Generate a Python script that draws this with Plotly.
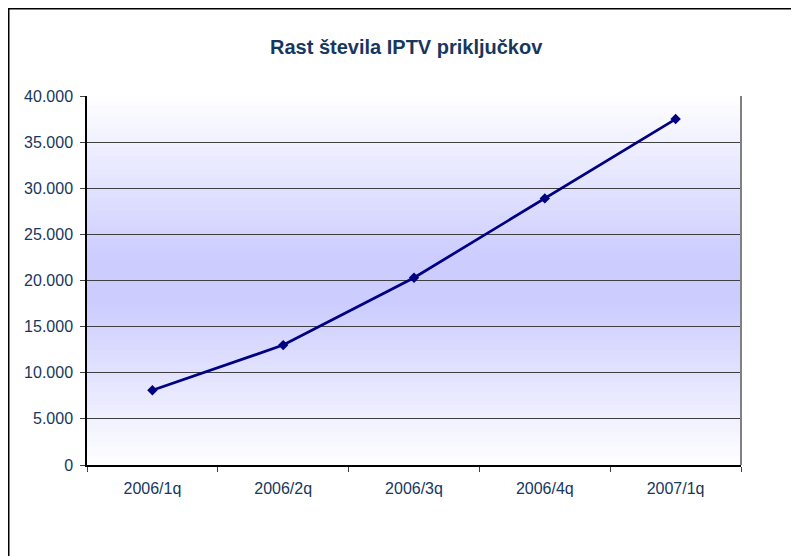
import plotly.graph_objects as go

categories = ["2006/1q", "2006/2q", "2006/3q", "2006/4q", "2007/1q"]
values = [8100, 13000, 20300, 28900, 37500]
y_ticks = [0, 5000, 10000, 15000, 20000, 25000, 30000, 35000, 40000]
title_text = "Rast števila IPTV priključkov"

# page has 8px body margin; figure origin sits at page (8, 8)
OFF = 8
W, H = 791, 560
L, T = 87 - OFF, 96 - OFF
pw, ph = 654, 369
R = W - L - pw
B = H - T - ph

def px_x(x):  # figure pixel -> paper
    return (x - L) / pw

def px_y(y):
    return (T + ph - y) / ph

fig = go.Figure()
fig.add_trace(go.Scatter(
    x=categories, y=values, mode="lines+markers",
    line=dict(color="#000080", width=2.75),
    marker=dict(symbol="diamond", size=8, color="#000080"),
    showlegend=False, cliponaxis=False,
))

shapes = []
n = 80
for i in range(n):
    y0 = i / n
    y1 = (i + 1) / n
    c = (y0 + y1) / 2
    d = abs(c - 0.5) / 0.5
    t = min(1.0, max(0.0, (d - 0.12) / 0.88))
    r0, g0 = 0xCC, 0xCC
    r = round(r0 + (255 - r0) * t)
    g = round(g0 + (255 - g0) * t)
    shapes.append(dict(type="rect", xref="x domain", yref="y domain",
                       x0=0, x1=1, y0=y0, y1=y1 + 0.002, layer="below",
                       line=dict(width=0), fillcolor=f"rgb({r},{g},255)"))
shapes.append(dict(type="line", xref="x domain", yref="y domain",
                   x0=1, x1=1, y0=0, y1=1, line=dict(color="#808080", width=2), layer="above"))
shapes.append(dict(type="rect", xref="paper", yref="paper",
                   x0=px_x(0.75), x1=px_x(W + 5), y0=px_y(H + 5), y1=px_y(0.75),
                   line=dict(color="#000000", width=1.5), fillcolor="rgba(0,0,0,0)"))

fig.update_layout(
    width=W, height=H,
    margin=dict(l=L, r=R, t=T, b=B),
    paper_bgcolor="white",
    plot_bgcolor="rgba(0,0,0,0)",
    separators=",.",
    shapes=shapes,
    font=dict(family="Liberation Sans, Arial, sans-serif", color="#17375E", size=16),
    annotations=[dict(text="<b>" + title_text + "</b>", xref="paper", yref="paper",
                      x=px_x(398), y=px_y(39), showarrow=False,
                      font=dict(size=20, color="#17375E"), xanchor="center", yanchor="middle")],
)
fig.update_xaxes(
    type="category", range=[-0.5, 4.5], tickson="boundaries",
    ticks="outside", ticklen=5, tickcolor="#404040",
    showline=True, linecolor="black", linewidth=1.5,
    showgrid=False, tickfont=dict(size=16, color="#17375E"),
    ticklabelstandoff=8,
)
fig.update_yaxes(
    range=[0, 40000], tickvals=y_ticks, tickformat=",d",
    ticks="outside", ticklen=5, tickcolor="#404040",
    showline=True, linecolor="black", linewidth=1.5,
    showgrid=True, gridcolor="#404040", gridwidth=1,
    zeroline=False, tickfont=dict(size=16, color="#17375E"),
    ticklabelstandoff=4,
)
fig.write_html("out.html")
